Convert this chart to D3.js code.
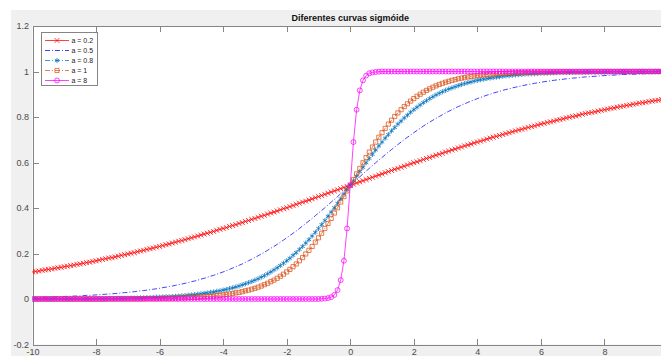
<!DOCTYPE html>
<html>
<head>
<meta charset="utf-8">
<script src="https://cdn.jsdelivr.net/npm/d3@7"></script>
<style>
  body { margin: 0; background: #fff; }
  text { font-family: "Liberation Sans", Arial, sans-serif; }
</style>
</head>
<body>
<script>
const width = 661;
const height = 356;

// x grid of the samples (step 0.1)
const xValues = d3.range(201).map((i) => Math.round((-100 + i)) / 10);

// the tick at 10 falls outside the picture, so it is left out
const xTicks = [-10, -8, -6, -4, -2, 0, 2, 4, 6, 8];
const yTicks = [-0.2, 0, 0.2, 0.4, 0.6, 0.8, 1, 1.2];

// values, x = -10 .. 10
const a02 = [
  0.119,0.121,0.123,0.126,0.128,0.130,0.132,0.135,0.137,0.139,
  0.142,0.144,0.147,0.149,0.152,0.154,0.157,0.160,0.162,0.165,
  0.168,0.171,0.174,0.177,0.180,0.182,0.185,0.188,0.192,0.195,
  0.198,0.201,0.204,0.208,0.211,0.214,0.218,0.221,0.224,0.228,
  0.231,0.235,0.239,0.242,0.246,0.250,0.254,0.257,0.261,0.265,
  0.269,0.273,0.277,0.281,0.285,0.289,0.293,0.297,0.302,0.306,
  0.310,0.314,0.319,0.323,0.327,0.332,0.336,0.341,0.345,0.350,
  0.354,0.359,0.364,0.368,0.373,0.378,0.382,0.387,0.392,0.397,
  0.401,0.406,0.411,0.416,0.421,0.426,0.430,0.435,0.440,0.445,
  0.450,0.455,0.460,0.465,0.470,0.475,0.480,0.485,0.490,0.495,
  0.500,
  0.505,0.510,0.515,0.520,0.525,0.530,0.535,0.540,0.545,0.550,
  0.555,0.560,0.565,0.570,0.574,0.579,0.584,0.589,0.594,0.599,
  0.603,0.608,0.613,0.618,0.622,0.627,0.632,0.636,0.641,0.646,
  0.650,0.655,0.659,0.664,0.668,0.673,0.677,0.681,0.686,0.690,
  0.694,0.698,0.703,0.707,0.711,0.715,0.719,0.723,0.727,0.731,
  0.735,0.739,0.743,0.746,0.750,0.754,0.758,0.761,0.765,0.769,
  0.772,0.776,0.779,0.782,0.786,0.789,0.792,0.796,0.799,0.802,
  0.805,0.808,0.812,0.815,0.818,0.820,0.823,0.826,0.829,0.832,
  0.835,0.838,0.840,0.843,0.846,0.848,0.851,0.853,0.856,0.858,
  0.861,0.863,0.865,0.868,0.870,0.872,0.874,0.877,0.879,0.881
];

const a05 = [
  0.007,0.007,0.007,0.008,0.008,0.009,0.009,0.009,0.010,0.010,
  0.011,0.012,0.012,0.013,0.013,0.014,0.015,0.016,0.016,0.017,
  0.018,0.019,0.020,0.021,0.022,0.023,0.024,0.025,0.027,0.028,
  0.029,0.031,0.032,0.034,0.036,0.037,0.039,0.041,0.043,0.045,
  0.047,0.050,0.052,0.055,0.057,0.060,0.063,0.066,0.069,0.072,
  0.076,0.079,0.083,0.087,0.091,0.095,0.100,0.104,0.109,0.114,
  0.119,0.125,0.130,0.136,0.142,0.148,0.154,0.161,0.168,0.175,
  0.182,0.190,0.198,0.206,0.214,0.223,0.231,0.240,0.250,0.259,
  0.269,0.279,0.289,0.299,0.310,0.321,0.332,0.343,0.354,0.366,
  0.378,0.389,0.401,0.413,0.426,0.438,0.450,0.463,0.475,0.487,
  0.500,
  0.513,0.525,0.537,0.550,0.562,0.574,0.587,0.599,0.611,0.622,
  0.634,0.646,0.657,0.668,0.679,0.690,0.701,0.711,0.721,0.731,
  0.741,0.750,0.760,0.769,0.777,0.786,0.794,0.802,0.810,0.818,
  0.825,0.832,0.839,0.846,0.852,0.858,0.864,0.870,0.875,0.881,
  0.886,0.891,0.896,0.900,0.905,0.909,0.913,0.917,0.921,0.924,
  0.928,0.931,0.934,0.937,0.940,0.943,0.945,0.948,0.950,0.953,
  0.955,0.957,0.959,0.961,0.963,0.964,0.966,0.968,0.969,0.971,
  0.972,0.973,0.975,0.976,0.977,0.978,0.979,0.980,0.981,0.982,
  0.983,0.984,0.984,0.985,0.986,0.987,0.987,0.988,0.988,0.989,
  0.990,0.990,0.991,0.991,0.991,0.992,0.992,0.993,0.993,0.993
];

const a08 = [
  0,0,0,0,0,0.001,0.001,0.001,0.001,0.001,
  0.001,0.001,0.001,0.001,0.001,0.001,0.001,0.001,0.001,0.001,
  0.002,0.002,0.002,0.002,0.002,0.002,0.002,0.003,0.003,0.003,
  0.003,0.004,0.004,0.004,0.005,0.005,0.006,0.006,0.007,0.008,
  0.008,0.009,0.010,0.010,0.011,0.012,0.013,0.014,0.015,0.017,
  0.018,0.019,0.021,0.023,0.025,0.027,0.029,0.031,0.034,0.036,
  0.039,0.042,0.046,0.049,0.053,0.057,0.062,0.067,0.072,0.077,
  0.083,0.089,0.096,0.103,0.111,0.119,0.128,0.137,0.147,0.157,
  0.168,0.179,0.192,0.204,0.218,0.231,0.246,0.261,0.277,0.293,
  0.310,0.327,0.345,0.364,0.382,0.401,0.421,0.440,0.460,0.480,
  0.500,
  0.520,0.540,0.560,0.579,0.599,0.618,0.636,0.655,0.673,0.690,
  0.707,0.723,0.739,0.754,0.769,0.782,0.796,0.808,0.821,0.832,
  0.843,0.853,0.863,0.872,0.881,0.889,0.897,0.904,0.911,0.917,
  0.923,0.928,0.933,0.938,0.943,0.947,0.951,0.954,0.958,0.961,
  0.964,0.966,0.969,0.971,0.973,0.975,0.977,0.979,0.981,0.982,
  0.983,0.985,0.986,0.987,0.988,0.989,0.990,0.990,0.991,0.992,
  0.992,0.993,0.994,0.994,0.995,0.995,0.996,0.996,0.996,0.997,
  0.997,0.997,0.997,0.998,0.998,0.998,0.998,0.998,0.998,0.998,
  0.999,0.999,0.999,0.999,0.999,0.999,0.999,0.999,0.999,0.999,
  0.999,0.999,0.999,0.999,0.999,1,1,1,1,1
];

const a1 = [
  0,0,0,0,0,0,0,0,0,0,
  0,0,0,0,0,0,0,0,0,0,
  0,0,0,0,0.001,0.001,0.001,0.001,0.001,0.001,
  0.001,0.001,0.001,0.001,0.001,0.001,0.002,0.002,0.002,0.002,
  0.002,0.003,0.003,0.003,0.004,0.004,0.004,0.005,0.005,0.006,
  0.007,0.007,0.008,0.009,0.010,0.011,0.012,0.013,0.015,0.016,
  0.018,0.020,0.022,0.024,0.027,0.029,0.032,0.036,0.039,0.043,
  0.047,0.052,0.057,0.063,0.069,0.076,0.083,0.091,0.100,0.109,
  0.119,0.130,0.142,0.154,0.168,0.182,0.198,0.214,0.231,0.250,
  0.269,0.289,0.310,0.332,0.354,0.378,0.401,0.426,0.450,0.475,
  0.500,
  0.525,0.550,0.574,0.599,0.622,0.646,0.668,0.690,0.711,0.731,
  0.750,0.769,0.786,0.802,0.818,0.832,0.846,0.858,0.870,0.881,
  0.891,0.900,0.909,0.917,0.924,0.931,0.937,0.943,0.948,0.953,
  0.957,0.961,0.964,0.968,0.971,0.973,0.976,0.978,0.980,0.982,
  0.984,0.985,0.987,0.988,0.989,0.990,0.991,0.992,0.993,0.993,
  0.994,0.995,0.995,0.996,0.996,0.996,0.997,0.997,0.997,0.998,
  0.998,0.998,0.998,0.998,0.999,0.999,0.999,0.999,0.999,0.999,
  0.999,0.999,0.999,0.999,0.999,1,1,1,1,1,
  1,1,1,1,1,1,1,1,1,1,
  1,1,1,1,1,1,1,1,1,1
];

const a8 = [
  0,0,0,0,0,0,0,0,0,0,
  0,0,0,0,0,0,0,0,0,0,
  0,0,0,0,0,0,0,0,0,0,
  0,0,0,0,0,0,0,0,0,0,
  0,0,0,0,0,0,0,0,0,0,
  0,0,0,0,0,0,0,0,0,0,
  0,0,0,0,0,0,0,0,0,0,
  0,0,0,0,0,0,0,0,0,0,
  0,0,0,0,0,0,0,0,0,0,
  0,0.001,0.002,0.004,0.008,0.018,0.039,0.083,0.168,0.310,
  0.500,
  0.690,0.832,0.917,0.961,0.982,0.992,0.996,0.998,0.999,1,
  1,1,1,1,1,1,1,1,1,1,
  1,1,1,1,1,1,1,1,1,1,
  1,1,1,1,1,1,1,1,1,1,
  1,1,1,1,1,1,1,1,1,1,
  1,1,1,1,1,1,1,1,1,1,
  1,1,1,1,1,1,1,1,1,1,
  1,1,1,1,1,1,1,1,1,1,
  1,1,1,1,1,1,1,1,1,1,
  1,1,1,1,1,1,1,1,1,1
];

const labels = ['a = 0.2', 'a = 0.5', 'a = 0.8', 'a = 1', 'a = 8'];

const series = [
  { name: labels[0], values: a02, color: '#ff0000', dash: null, symbol: d3.symbolTimes, size: 18 },
  { name: labels[1], values: a05, color: '#0000ff', dash: '5,2,1,2', symbol: null, size: 0 },
  { name: labels[2], values: a08, color: '#0072bd', dash: '5,2,1,2', symbol: d3.symbolAsterisk, size: 18 },
  { name: labels[3], values: a1, color: '#d95319', dash: '5,2,1,2', symbol: d3.symbolSquare2, size: 22 },
  { name: labels[4], values: a8, color: '#ff00ff', dash: null, symbol: d3.symbolCircle, size: 19 }
];

series.forEach((s) => {
  if (s.values.length !== xValues.length) throw new Error(s.name + ' has ' + s.values.length);
});

const plot = { left: 32.5, right: 668, top: 26, bottom: 344.5 };

const x = d3.scaleLinear().domain([-10, 10]).range([plot.left, plot.right]);
const y = d3.scaleLinear().domain([-0.2, 1.2]).range([plot.bottom, plot.top]);

const svg = d3.select('body').append('svg')
  .attr('width', width)
  .attr('height', height);

// figure background
svg.append('rect').attr('x', 11).attr('y', 10).attr('width', width - 11).attr('height', height - 10)
  .attr('fill', '#f0f0f0');

svg.append('rect')
  .attr('x', plot.left).attr('y', plot.top)
  .attr('width', plot.right - plot.left).attr('height', plot.bottom - plot.top)
  .attr('fill', '#fff');

svg.append('clipPath').attr('id', 'clip')
  .append('rect')
  .attr('x', plot.left).attr('y', plot.top)
  .attr('width', plot.right - plot.left).attr('height', plot.bottom - plot.top);

const axisColor = '#858585';
const textColor = '#4a4a4a';

function styleAxis (g) {
  g.select('.domain').attr('stroke', axisColor).attr('shape-rendering', 'crispEdges');
  g.selectAll('.tick line').attr('stroke', axisColor).attr('shape-rendering', 'crispEdges');
  g.selectAll('.tick text').attr('fill', textColor).attr('font-size', 9);
}

svg.append('g')
  .attr('transform', `translate(0,${plot.bottom})`)
  .call(d3.axisBottom(x).tickValues(xTicks).tickFormat((d) => String(d))
    .tickSizeInner(-6).tickSizeOuter(0).tickPadding(4.5))
  .call(styleAxis);

svg.append('g')
  .attr('transform', `translate(0,${plot.top})`)
  .call(d3.axisTop(x).tickValues(xTicks).tickFormat('')
    .tickSizeInner(-6).tickSizeOuter(0))
  .call(styleAxis);

svg.append('g')
  .attr('transform', `translate(${plot.left},0)`)
  .call(d3.axisLeft(y).tickValues(yTicks).tickFormat((d) => String(d))
    .tickSizeInner(-6).tickSizeOuter(0).tickPadding(3.5))
  .call(styleAxis);

svg.append('g')
  .attr('transform', `translate(${plot.right},0)`)
  .call(d3.axisRight(y).tickValues(yTicks).tickFormat('')
    .tickSizeInner(-6).tickSizeOuter(0))
  .call(styleAxis);

const line = d3.line()
  .x((d) => x(d[0]))
  .y((d) => y(d[1]));

const marks = svg.append('g').attr('clip-path', 'url(#clip)');

series.forEach((s) => {
  const pts = xValues.map((xv, i) => [xv, s.values[i]]);
  marks.append('path')
    .datum(pts)
    .attr('fill', 'none')
    .attr('stroke', s.color)
    .attr('stroke-width', 0.75)
    .attr('stroke-dasharray', s.dash)
    .attr('d', line);
  if (s.symbol) {
    marks.append('g').selectAll('path')
      .data(pts)
      .join('path')
      .attr('transform', (d) => `translate(${x(d[0])},${y(d[1])})`)
      .attr('d', d3.symbol(s.symbol, s.size))
      .attr('fill', 'none')
      .attr('stroke', s.color)
      .attr('stroke-width', 0.75);
  }
});

// title
svg.append('text')
  .attr('x', x(0))
  .attr('y', 21)
  .attr('text-anchor', 'middle')
  .attr('font-size', 9)
  .attr('font-weight', 'bold')
  .attr('fill', '#111')
  .text('Diferentes curvas sigmóide');

// legend
const legend = svg.append('g');
legend.append('rect')
  .attr('x', 41.5).attr('y', 32.5).attr('width', 56).attr('height', 53)
  .attr('fill', '#fff').attr('stroke', axisColor).attr('shape-rendering', 'crispEdges');

series.forEach((s, i) => {
  const ly = 40.5 + i * 10;
  const g = legend.append('g');
  g.append('line')
    .attr('x1', 45).attr('x2', 69).attr('y1', ly).attr('y2', ly)
    .attr('stroke', s.color).attr('stroke-width', 0.75)
    .attr('stroke-dasharray', s.dash);
  if (s.symbol) {
    g.append('path')
      .attr('transform', `translate(57,${ly})`)
      .attr('d', d3.symbol(s.symbol, s.size))
      .attr('fill', 'none')
      .attr('stroke', s.color)
      .attr('stroke-width', 0.75);
  }
  g.append('text')
    .attr('x', 71.5).attr('y', ly).attr('dy', '0.35em')
    .attr('font-size', 7)
    .attr('fill', '#222')
    .text(s.name);
});
</script>
</body>
</html>
